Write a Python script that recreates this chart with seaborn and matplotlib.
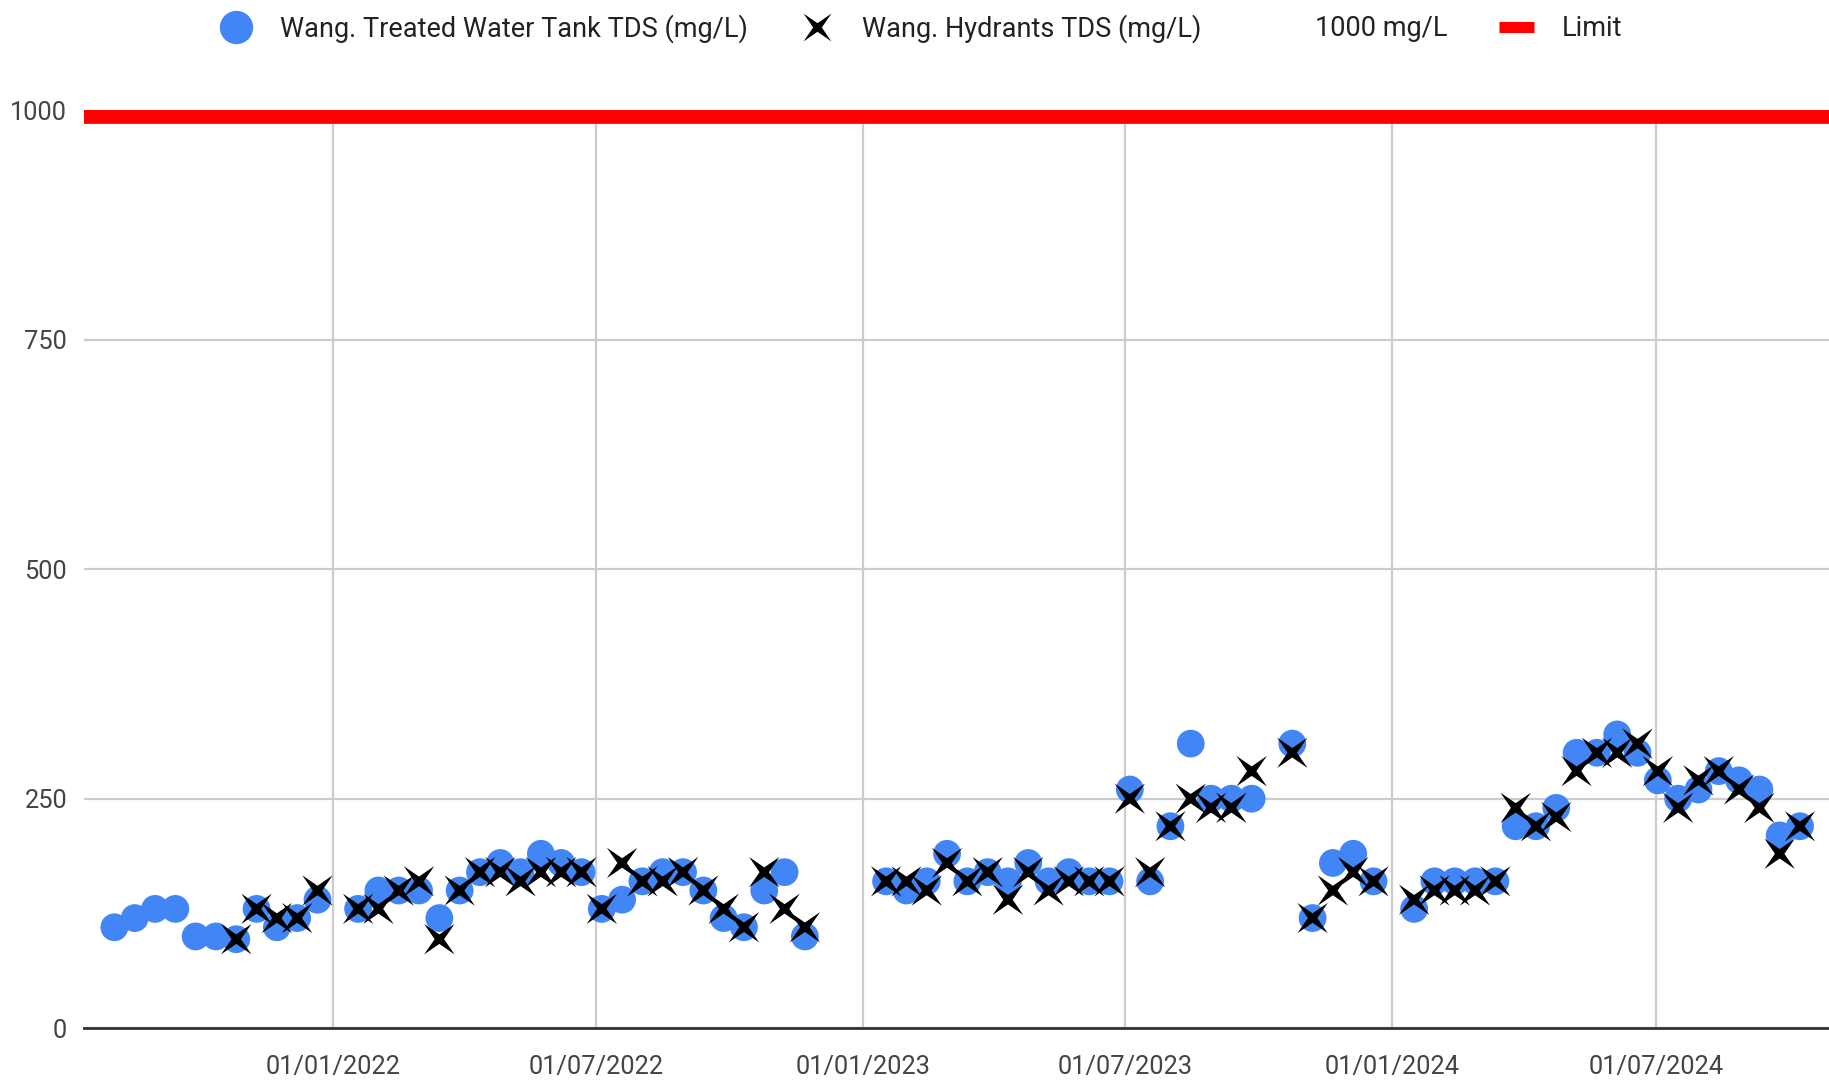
import numpy as np
import pandas as pd
import matplotlib
matplotlib.use("Agg")
import matplotlib.pyplot as plt
import matplotlib.dates as mdates
from matplotlib.path import Path
from matplotlib.lines import Line2D
import seaborn as sns

# sample dates (fortnightly)
dates = [
    "2021-08-03", "2021-08-17", "2021-08-31", "2021-09-14", "2021-09-28", "2021-10-12",
    "2021-10-26", "2021-11-09", "2021-11-23", "2021-12-07", "2021-12-21",
    "2022-01-18", "2022-02-01", "2022-02-15", "2022-03-01", "2022-03-15", "2022-03-29",
    "2022-04-12", "2022-04-26", "2022-05-10", "2022-05-24", "2022-06-07", "2022-06-21",
    "2022-07-05", "2022-07-19", "2022-08-02", "2022-08-16", "2022-08-30", "2022-09-13",
    "2022-09-27", "2022-10-11", "2022-10-25", "2022-11-08", "2022-11-22",
    "2023-01-17", "2023-01-31", "2023-02-14", "2023-02-28", "2023-03-14", "2023-03-28",
    "2023-04-11", "2023-04-25", "2023-05-09", "2023-05-23", "2023-06-06", "2023-06-20",
    "2023-07-04", "2023-07-18", "2023-08-01", "2023-08-15", "2023-08-29", "2023-09-12",
    "2023-09-26", "2023-10-24", "2023-11-07", "2023-11-21", "2023-12-05", "2023-12-19",
    "2024-01-16", "2024-01-30", "2024-02-13", "2024-02-27", "2024-03-12", "2024-03-26",
    "2024-04-09", "2024-04-23", "2024-05-07", "2024-05-21", "2024-06-04", "2024-06-18",
    "2024-07-02", "2024-07-16", "2024-07-30", "2024-08-13", "2024-08-27", "2024-09-10",
    "2024-09-24", "2024-10-08",
]

tank_tds = [
    110, 120, 130, 130, 100, 100, 97, 130, 110, 120, 140,
    130, 150, 150, 150, 120, 150, 170, 180, 170, 190, 180, 170,
    130, 140, 160, 170, 170, 150, 120, 110, 150, 170, 100,
    160, 150, 160, 190, 160, 170, 160, 180, 160, 170, 160, 160,
    260, 160, 220, 310, 250, 250, 250, 310, 120, 180, 190, 160,
    130, 160, 160, 160, 160, 220, 220, 240, 300, 300, 320, 300,
    270, 250, 260, 280, 270, 260, 210, 220,
]

hydrant_tds = [
    None, None, None, None, None, None, 97, 130, 120, 120, 150,
    130, 130, 150, 160, 97, 150, 170, 170, 160, 170, 170, 170,
    130, 180, 160, 160, 170, 150, 130, 110, 170, 130, 110,
    160, 160, 150, 180, 160, 170, 140, 170, 150, 160, 160, 160,
    250, 170, 220, 250, 240, 240, 280, 300, 120, 150, 170, 160,
    140, 150, 150, 150, 160, 240, 220, 230, 280, 300, 300, 310,
    280, 240, 270, 280, 260, 240, 190, 220,
]

limit = 1000
y_ticks = [0, 250, 500, 750, 1000]
x_ticks = ["2022-01-01", "2022-07-01", "2023-01-01", "2023-07-01", "2024-01-01", "2024-07-01"]
x_range = ["2021-07-13", "2024-10-28"]

df = pd.DataFrame({
    "date": pd.to_datetime(dates),
    "tank": tank_tds,
    "hydrant": [np.nan if v is None else v for v in hydrant_tds],
})

sns.set_style("white")
plt.rcParams["font.family"] = ["Roboto", "DejaVu Sans"]

BLUE = "#4285F4"
GRID = "#cccccc"
TXT = "#444444"

# thin four-pointed star, like the chart's cross marker
ang = np.deg2rad(np.arange(8) * 45 + 45)
rad = np.where(np.arange(8) % 2 == 0, 1.0, 0.22)
verts = np.column_stack([rad * np.cos(ang), rad * np.sin(ang)])
verts = np.vstack([verts, verts[:1]])
star = Path(verts, [Path.MOVETO] + [Path.LINETO] * 7 + [Path.CLOSEPOLY])

fig = plt.figure(figsize=(18.29, 10.85), dpi=100)
ax = fig.add_axes([0.0459, 0.0523, 0.9541, 0.8463])

ax.axhline(limit, color="#ff0000", lw=20, zorder=2, clip_on=True)

sns.scatterplot(data=df, x="date", y="tank", ax=ax, color=BLUE, s=400,
                linewidth=0, edgecolor="none", zorder=3, legend=False)
sns.scatterplot(data=df, x="date", y="hydrant", ax=ax, color="black", s=480,
                marker=star, linewidth=0, edgecolor="none", zorder=4, legend=False)

ax.set_ylim(0, 1000)
ax.set_xlim(pd.to_datetime(x_range[0]), pd.to_datetime(x_range[1]))
ax.set_yticks(y_ticks)
ax.set_xticks(pd.to_datetime(x_ticks))
ax.xaxis.set_major_formatter(mdates.DateFormatter("%d/%m/%Y"))
ax.grid(True, color=GRID, lw=1.6, zorder=0)
ax.set_axisbelow(True)
ax.tick_params(length=0, labelsize=18.3, colors=TXT, pad=12)
ax.tick_params(axis="x", pad=19)
ax.set_xlabel("")
ax.set_ylabel("")
for side in ["top", "right", "left"]:
    ax.spines[side].set_visible(False)
ax.spines["bottom"].set_color("#333333")
ax.spines["bottom"].set_linewidth(2)
ax.spines["bottom"].set_zorder(5)

handles = [
    Line2D([], [], ls="none", marker="o", ms=24, color=BLUE, mec="none"),
    Line2D([], [], ls="none", marker=star, ms=20, color="black", mec="none"),
    Line2D([], [], ls="none", marker="none"),
    Line2D([], [], ls="-", lw=8, color="#ff0000", solid_capstyle="butt"),
]
labels = ["Wang. Treated Water Tank TDS (mg/L)", "Wang. Hydrants TDS (mg/L)",
          "1000 mg/L", "Limit"]
leg = fig.legend(handles, labels, loc="center", bbox_to_anchor=(0.503, 0.974),
                 ncol=4, frameon=False, fontsize=19.5, handletextpad=1.0,
                 columnspacing=1.9, handlelength=1.3)
for t in leg.get_texts():
    t.set_color("#222222")

fig.savefig("out.png", dpi=100)
